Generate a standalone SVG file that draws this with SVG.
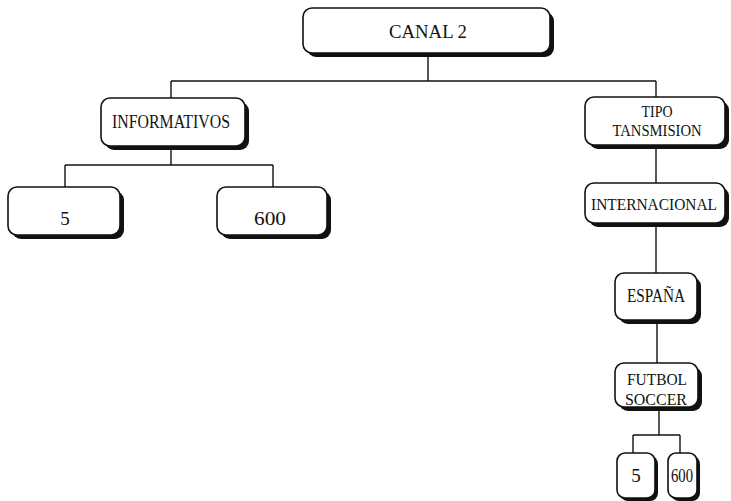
<svg xmlns="http://www.w3.org/2000/svg" width="731" height="501" viewBox="0 0 731 501">
<defs>
<style>
.sh{fill:#111;stroke:none}
.bx{fill:#fff;stroke:#111;stroke-width:1.6}
.t{font-family:"Liberation Serif","Times New Roman",serif;font-size:19px;fill:#111;text-anchor:middle}
.s{font-size:17px}
.c path{fill:none;stroke:#111;stroke-width:1.4}
</style>
</defs>
<rect width="731" height="501" fill="#fff"/>
<g class="c" id="connectors">
<path d="M428 56V81"/>
<path d="M171 81H656"/>
<path d="M171 81V98"/>
<path d="M656 81V97"/>
<path d="M171 149V165"/>
<path d="M65 165H273"/>
<path d="M65 165V187"/>
<path d="M273 165V187"/>
<path d="M656 148V183"/>
<path d="M656 226V273"/>
<path d="M657 323V363"/>
<path d="M659 410V435"/>
<path d="M633 435H680"/>
<path d="M633 435V453"/>
<path d="M680 435V453"/>
</g>
<g id="canal2">
<rect class="sh" x="307" y="12" width="247" height="45" rx="9"/>
<rect class="bx" x="303" y="8" width="247" height="45" rx="9"/>
<text class="t" x="428" y="38" textLength="78" lengthAdjust="spacingAndGlyphs">CANAL 2</text>
</g>
<g id="informativos">
<rect class="sh" x="105" y="102" width="144" height="48" rx="9"/>
<rect class="bx" x="101" y="98" width="144" height="48" rx="9"/>
<text class="t" x="171" y="128" textLength="118" lengthAdjust="spacingAndGlyphs">INFORMATIVOS</text>
</g>
<g id="tipo">
<rect class="sh" x="589" y="101" width="140" height="48" rx="9"/>
<rect class="bx" x="585" y="97" width="140" height="48" rx="9"/>
<text class="t s" x="657" y="117" textLength="31" lengthAdjust="spacingAndGlyphs">TIPO</text>
<text class="t s" x="657" y="136" textLength="89" lengthAdjust="spacingAndGlyphs">TANSMISION</text>
</g>
<g id="internacional">
<rect class="sh" x="589" y="187" width="140" height="40" rx="9"/>
<rect class="bx" x="585" y="183" width="140" height="40" rx="9"/>
<text class="t s" x="654" y="210" textLength="126" lengthAdjust="spacingAndGlyphs">INTERNACIONAL</text>
</g>
<g id="n5a">
<rect class="sh" x="12" y="191" width="112" height="48" rx="9"/>
<rect class="bx" x="8" y="187" width="112" height="48" rx="9"/>
<text class="t" x="65" y="225">5</text>
</g>
<g id="n600a">
<rect class="sh" x="221" y="191" width="110" height="48" rx="9"/>
<rect class="bx" x="217" y="187" width="110" height="48" rx="9"/>
<text class="t" x="270" y="225" textLength="32" lengthAdjust="spacingAndGlyphs">600</text>
</g>
<g id="espana">
<rect class="sh" x="619" y="277" width="82" height="47" rx="9"/>
<rect class="bx" x="615" y="273" width="82" height="47" rx="9"/>
<text class="t" x="656" y="302" textLength="58" lengthAdjust="spacingAndGlyphs">ESPAÑA</text>
</g>
<g id="futbol">
<rect class="sh" x="619" y="367" width="83" height="44" rx="9"/>
<rect class="bx" x="615" y="363" width="83" height="44" rx="9"/>
<text class="t s" x="657" y="385" textLength="60" lengthAdjust="spacingAndGlyphs">FUTBOL</text>
<text class="t s" x="656" y="405" textLength="62" lengthAdjust="spacingAndGlyphs">SOCCER</text>
</g>
<g id="n5b">
<rect class="sh" x="620" y="456" width="38" height="45" rx="8"/>
<rect class="bx" x="617" y="453" width="38" height="45" rx="8"/>
<text class="t" x="636" y="482">5</text>
</g>
<g id="n600b">
<rect class="sh" x="671" y="456" width="29" height="45" rx="8"/>
<rect class="bx" x="668" y="453" width="29" height="45" rx="8"/>
<text class="t" x="682" y="482" textLength="22" lengthAdjust="spacingAndGlyphs">600</text>
</g>
</svg>
